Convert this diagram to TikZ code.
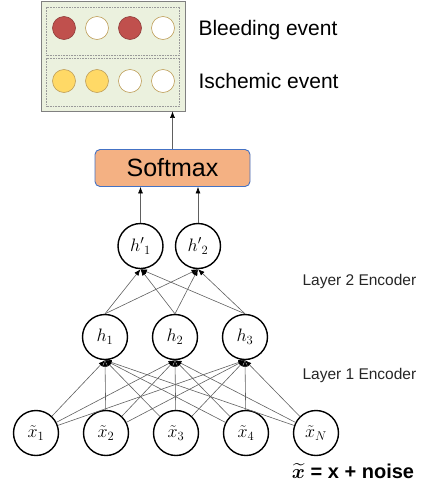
\RequirePackage{fix-cm}
\documentclass[tikz,border=0pt]{standalone}
\usepackage{amsmath}
\usepackage{bm}
\usepackage{fontspec}
\newfontfamily\lsans{Liberation Sans}
\usetikzlibrary{arrows.meta}
\definecolor{boxgreen}{HTML}{EBF1DE}
\definecolor{bleedred}{HTML}{C0504D}
\definecolor{ischyel}{HTML}{FFD966}
\definecolor{ringgold}{HTML}{BF9F5A}
\definecolor{softorange}{HTML}{F4B183}
\definecolor{softblue}{HTML}{4472C4}

\begin{document}
\begin{tikzpicture}[x=1pt, y=-1pt,
    unit/.style={circle, draw, line width=1.4pt, fill=white, minimum size=45pt, inner sep=0pt, font=\fontsize{18}{22}\selectfont},
    dot/.style={circle, line width=0.6pt, minimum size=23pt, inner sep=0pt},
    link/.style={gray!75!black, line width=0.6pt, -{Latex[length=6.5pt, width=5pt, black]}},
    rowbox/.style={draw=gray!80, densely dotted, line width=0.6pt, minimum width=133pt, minimum height=48pt, inner sep=0pt},
    sidetext/.style={anchor=west, font=\lsans\fontsize{21}{25}\selectfont},
    layertext/.style={anchor=west, font=\lsans\fontsize{15.5}{18}\selectfont, text=black!85}]
  \useasboundingbox (0,0) rectangle (431,501);
  \node[draw=gray, fill=boxgreen, line width=0.8pt, minimum width=144pt, minimum height=110pt, inner sep=0pt] (outbox) at (113,56) {};
  \node[rowbox] (bleedrow) at (113,31) {};
  \node[rowbox] (ischrow) at (113,82) {};
  \foreach \c/\d [count=\i] in {bleedred/bleedred!75!black, white/ringgold, bleedred/bleedred!75!black, white/ringgold}
    \node[dot, fill=\c, draw=\d] (b\i) at (31+33*\i,28) {};
  \foreach \c [count=\i] in {ischyel, ischyel, white, white}
    \node[dot, fill=\c, draw=ringgold] (s\i) at (31+33*\i,81) {};
  \node[sidetext] (bleedlab) at (195,30) {Bleeding event};
  \node[sidetext] (ischlab) at (195,81) {Ischemic event};
  \node[draw=softblue, fill=softorange, rounded corners=5pt, line width=0.9pt, minimum width=155pt, minimum height=37pt, inner sep=0pt, font=\lsans\fontsize{25}{30}\selectfont] (soft) at (172.5,168) {Softmax};
  \draw[link] (soft.north) -- (soft.north |- outbox.south);
  \node[unit] (hp1) at (140.5,246) {${h'}_1$};
  \node[unit] (hp2) at (198,246) {${h'}_2$};
  \foreach \i in {1,2,3}
    \node[unit] (h\i) at (35+70*\i,337) {$h_\i$};
  \foreach \l [count=\i] in {1,2,3,4,N}
    \node[unit] (x\i) at (-34+70*\i,433) {$\tilde{x}_\l$};
  \foreach \i in {1,...,5}
    \foreach \j in {1,2,3}
      \draw[link] (x\i) -- (h\j.south);
  \foreach \j in {1,2,3}
    \foreach \k in {1,2}
      \draw[link] (h\j.north) -- (hp\k.south);
  \foreach \k in {1,2}
    \draw[link] (hp\k.north) -- (hp\k.north |- soft.south);
  \node[layertext] (lay2) at (299,281) {Layer 2 Encoder};
  \node[layertext] (lay1) at (299,375) {Layer 1 Encoder};
  \node[font=\fontsize{20}{24}\selectfont] (noise) at (353,471) {$\widetilde{\bm{x}}$\;{\lsans\bfseries = x + noise}};
\end{tikzpicture}
\end{document}
